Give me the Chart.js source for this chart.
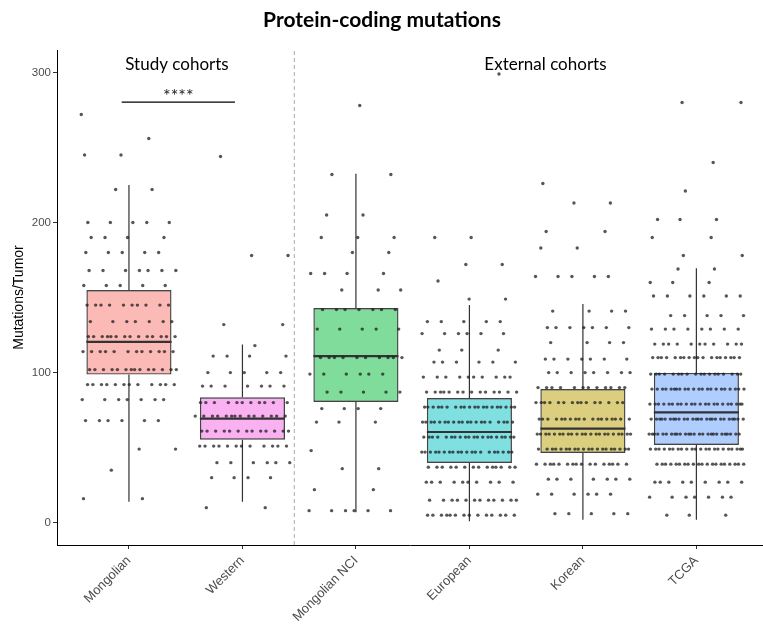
<!DOCTYPE html>
<html>
<head>
<meta charset="utf-8">
<script src="https://cdn.jsdelivr.net/npm/chart.js@4.4.1/dist/chart.umd.min.js"></script>
<style>
  html, body { margin: 0; padding: 0; background: #fff; }
  #wrap { width: 763px; height: 629px; }
</style>
</head>
<body>
<div id="wrap"><canvas id="chart" width="763" height="629"></canvas></div>
<script>
// Cohorts (x categories) and box statistics
const cohorts = ['Mongolian', 'Western', 'Mongolian NCI', 'European', 'Korean', 'TCGA'];
const whiskerLow = [14, 14, 7, 1, 2, 2];
const q1 = [98.7, 55.3, 80.4, 39.8, 46.4, 51.8];
const median = [120.5, 69.3, 111, 60.4, 62.7, 73.5];
const q3 = [155, 83.5, 143, 83, 89, 99.8];
const whiskerHigh = [225, 118.7, 232.5, 145, 145.8, 169.5];
const yTicks = [0, 100, 200, 300];

// Per-tumour values, given as value levels and how many tumours sit on each
const mongolianLevels = [272, 256, 245, 222, 200, 190, 180, 168, 158, 145, 134, 124, 114, 102, 92, 82, 68, 49, 35, 16];
const mongolianCounts = [1, 1, 2, 2, 5, 4, 5, 7, 5, 10, 7, 14, 12, 14, 12, 7, 6, 2, 1, 2];
const westernLevels = [244, 178, 132, 118, 111, 100, 91, 80, 71, 61, 51, 40, 30, 10];
const westernCounts = [1, 2, 2, 1, 4, 5, 7, 11, 14, 13, 12, 6, 4, 2];
const nciLevels = [278, 232, 205, 190, 180, 166, 155, 142, 129, 110, 99, 87, 76, 67, 48, 36, 22, 8];
const nciCounts = [1, 2, 2, 3, 2, 4, 3, 7, 5, 10, 6, 5, 4, 3, 1, 2, 2, 6];
const europeanLevels = [299, 190, 172, 161, 149, 134, 126, 115, 107, 97, 87, 77, 67, 57, 47, 37, 27, 15, 5];
const europeanCounts = [1, 2, 2, 1, 2, 5, 6, 3, 6, 10, 14, 20, 20, 20, 20, 14, 10, 12, 14];
const koreanLevels = [226, 213, 194, 183, 164, 141, 130, 120, 109, 100, 90, 80, 69, 59, 49, 39, 29, 19, 6];
const koreanCounts = [1, 2, 2, 2, 5, 4, 7, 4, 7, 8, 12, 15, 18, 22, 20, 16, 7, 6, 5];
const tcgaLevels = [280, 240, 221, 202, 190, 178, 169, 160, 151, 138, 129, 119, 110, 99, 89, 79, 69, 59, 49, 39, 27, 17, 5];
const tcgaCounts = [2, 1, 1, 3, 2, 2, 2, 3, 6, 5, 8, 11, 18, 18, 22, 22, 26, 26, 22, 20, 9, 7, 3];

const groupLevels = [mongolianLevels, westernLevels, nciLevels, europeanLevels, koreanLevels, tcgaLevels];
const groupCounts = [mongolianCounts, westernCounts, nciCounts, europeanCounts, koreanCounts, tcgaCounts];

const boxFill = [
    'rgba(248, 118, 109, 0.5)',
    'rgba(245, 100, 227, 0.5)',
    'rgba(0, 186, 56, 0.5)',
    'rgba(0, 191, 196, 0.5)',
    'rgba(183, 159, 0, 0.5)',
    'rgba(97, 156, 255, 0.5)'
];

// --- build the plotted points ---
const jitterPoints = [];
groupLevels.forEach((levels, g) => {
    let k = 0;
    levels.forEach((v, li) => {
        for (let n = 0; n < groupCounts[g][li]; n++) {
            // fixed horizontal spread (no randomness), like a jitter
            const off = ((((k + li * 5) * 0.618034 + g * 0.27) % 1) - 0.5) * 0.84;
            jitterPoints.push({ x: g + 1 + off, y: v });
            k++;
        }
    });
});

const boxes = cohorts.map((c, i) => ({ x: i + 1, y: [q1[i], q3[i]] }));

const whiskerLines = [];
const medianLines = [];
cohorts.forEach((c, i) => {
    whiskerLines.push({ x: i + 1, y: q3[i] }, { x: i + 1, y: whiskerHigh[i] }, { x: i + 1, y: null });
    whiskerLines.push({ x: i + 1, y: q1[i] }, { x: i + 1, y: whiskerLow[i] }, { x: i + 1, y: null });
    medianLines.push({ x: i + 1 - 0.375, y: median[i] }, { x: i + 1 + 0.375, y: median[i] }, { x: i + 1, y: null });
});

// texte et annotations
const annotations = {
    id: 'annotations',
    afterDatasetsDraw(chart) {
        const { ctx, scales: { x, y } } = chart;
        ctx.save();
        ctx.fillStyle = '#000';
        ctx.textAlign = 'center';
        ctx.textBaseline = 'middle';
        ctx.font = 'bold 21px Lato';
        ctx.fillText('Protein-coding mutations', 382, 20);

        ctx.font = '17px Lato';
        ctx.fillText('Study cohorts', x.getPixelForValue(1.423), y.getPixelForValue(305));
        ctx.fillText('External cohorts', x.getPixelForValue(4.67), y.getPixelForValue(305));

        ctx.font = '18px Lato';
        ctx.fillStyle = '#222';
        ctx.fillText('****', x.getPixelForValue(1.435), y.getPixelForValue(284.5));
        ctx.restore();
    }
};

new Chart(document.getElementById('chart'), {
    data: {
        datasets: [
            {
                type: 'scatter',
                data: jitterPoints,
                pointRadius: 1.7,
                pointBorderWidth: 0,
                pointBackgroundColor: 'rgba(30, 30, 30, 0.75)',
                order: 0
            },
            {
                type: 'line',
                data: medianLines,
                borderColor: '#333',
                borderWidth: 2.2,
                pointRadius: 0,
                spanGaps: false,
                order: 1
            },
            {
                type: 'bar',
                data: boxes,
                backgroundColor: boxFill,
                borderColor: '#444',
                borderWidth: 1.4,
                borderSkipped: false,
                barPercentage: 0.75,
                categoryPercentage: 1,
                order: 2
            },
            {
                type: 'line',
                data: whiskerLines,
                borderColor: '#333',
                borderWidth: 1.2,
                pointRadius: 0,
                spanGaps: false,
                order: 3
            },
            {
                // séparation entre les deux groupes de cohortes
                type: 'line',
                data: [{ x: 2.457, y: -14.9 }, { x: 2.457, y: 315 }],
                borderColor: '#aaa',
                borderWidth: 1,
                borderDash: [4, 3],
                pointRadius: 0,
                order: 4
            },
            {
                // barre de significativité
                type: 'line',
                data: [{ x: 0.936, y: 280.2 }, { x: 1.934, y: 280.2 }],
                borderColor: '#000',
                borderWidth: 1.2,
                pointRadius: 0,
                order: 4
            }
        ]
    },
    options: {
        responsive: false,
        animation: false,
        layout: { autoPadding: false, padding: { top: 50, right: 0, left: 0, bottom: 0 } },
        plugins: {
            legend: { display: false },
            tooltip: { enabled: false }
        },
        scales: {
            x: {
                type: 'linear',
                offset: false,
                min: 0.366,
                max: 6.587,
                afterBuildTicks: (scale) => {
                    scale.ticks = cohorts.map((c, i) => ({ value: i + 1 }));
                },
                afterFit: (scale) => {
                    scale.height = 84;
                    scale.paddingLeft = 0;
                    scale.paddingRight = 0;
                },
                grid: { offset: false, drawOnChartArea: false, drawTicks: true, tickLength: 4, color: '#333' },
                border: { display: true, color: '#000', width: 1 },
                ticks: {
                    autoSkip: false,
                    minRotation: 45,
                    maxRotation: 45,
                    padding: 4,
                    color: '#4d4d4d',
                    font: { family: 'Liberation Sans', size: 13 },
                    callback: (v) => cohorts[v - 1]
                }
            },
            y: {
                type: 'linear',
                min: -14.9,
                max: 315,
                afterBuildTicks: (scale) => {
                    scale.ticks = yTicks.map(v => ({ value: v }));
                },
                afterFit: (scale) => {
                    scale.width = 57;
                    scale.paddingTop = 0;
                    scale.paddingBottom = 0;
                },
                grid: { drawOnChartArea: false, drawTicks: true, tickLength: 4, color: '#333' },
                border: { display: true, color: '#000', width: 1 },
                ticks: {
                    padding: 2,
                    color: '#4d4d4d',
                    font: { family: 'Liberation Sans', size: 11.5 }
                },
                title: {
                    display: true,
                    text: 'Mutations/Tumor',
                    color: '#000',
                    font: { family: 'Liberation Sans', size: 14 },
                    padding: { top: 11, bottom: 0 }
                }
            }
        }
    },
    plugins: [annotations]
});
</script>
</body>
</html>
